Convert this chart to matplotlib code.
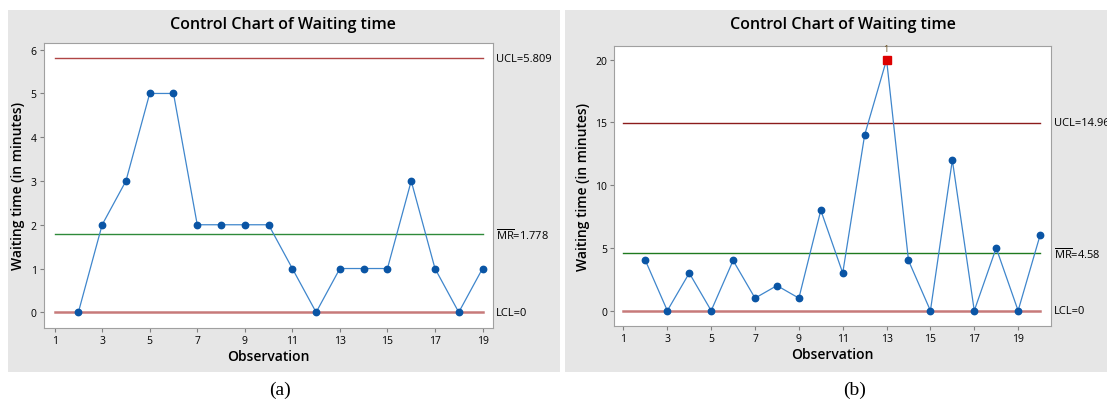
import matplotlib
matplotlib.use('Agg')
import matplotlib.pyplot as plt
from matplotlib.patches import Rectangle

plt.rcParams['font.family'] = ['Open Sans', 'DejaVu Sans']
plt.rcParams['mathtext.fontset'] = 'custom'
plt.rcParams['mathtext.rm'] = 'Open Sans'

# panel (a) moving range data
obs_a = list(range(2, 20))
mr_a = [0, 2, 3, 5, 5, 2, 2, 2, 2, 1, 0, 1, 1, 1, 3, 1, 0, 1]
ucl_a, mrbar_a, lcl_a = 5.809, 1.778, 0
ucl_a_txt, mrbar_a_txt = '5.809', '1.778'

# panel (b) moving range data
obs_b = list(range(2, 21))
mr_b = [4, 0, 3, 0, 4, 1, 2, 1, 8, 3, 14, 20, 4, 0, 12, 0, 5, 0, 6]
ucl_b, mrbar_b, lcl_b = 14.96, 4.58, 0
ucl_b_txt, mrbar_b_txt = '14.96', '4.58'
flag_obs, flag_val = 13, 20

xticks = [1, 3, 5, 7, 9, 11, 13, 15, 17, 19]
title = 'Control Chart of Waiting time'
ylab = 'Waiting time (in minutes)'
xlab = 'Observation'

W, H = 1107, 402
fig = plt.figure(figsize=(W / 100, H / 100), dpi=100)
fig.patch.set_facecolor('white')

def px(x0, y0, x1, y1):
    # pixel box (top-left origin) -> figure fraction rect
    return [x0 / W, (H - y1) / H, (x1 - x0) / W, (y1 - y0) / H]

bg = '#e6e6e6'
for box in [(8, 11, 560, 373), (565, 11, 1107, 373)]:
    r = px(*box)
    fig.patches.append(Rectangle((r[0], r[1]), r[2], r[3], transform=fig.transFigure,
                                 facecolor=bg, edgecolor='none', zorder=-10))


def draw_panel(rect, obs, vals, ucl, mrbar, lcl, ucl_txt, mr_txt, xend, xlim, ylim, yticks,
               ucl_col, mr_col):
    ax = fig.add_axes(rect)
    ax.set_facecolor('white')
    ax.plot(obs, vals, color='#3f86cc', lw=0.9, zorder=3)
    ax.plot(obs, vals, 'o', color='#0a55a5', ms=4.6, zorder=4)
    ax.plot([1, xend], [ucl, ucl], color=ucl_col, lw=1.0, zorder=2)
    ax.plot([1, xend], [mrbar, mrbar], color=mr_col, lw=1.0, zorder=2)
    ax.plot([1, xend], [lcl, lcl], color='#c77a7a', lw=1.8, zorder=2)
    ax.set_xlim(*xlim)
    ax.set_ylim(*ylim)
    ax.set_xticks(xticks)
    ax.set_yticks(yticks)
    ax.tick_params(labelsize=7.5, length=3, color='#808080', pad=2)
    for s in ax.spines.values():
        s.set_color('#a0a0a0')
    kw = dict(transform=ax.get_yaxis_transform(), fontsize=8, va='center', ha='left', clip_on=False)
    ax.text(1.007, ucl, 'UCL=' + ucl_txt, **kw)
    ax.text(1.007, mrbar, r'$\overline{\mathrm{MR}}$' + '=' + mr_txt, **kw)
    ax.text(1.007, lcl, 'LCL=0', **kw)
    ax.set_xlabel(xlab, fontsize=10, fontweight='semibold', labelpad=2)
    ax.set_ylabel(ylab, fontsize=10, fontweight='semibold', labelpad=4)
    return ax


ax_a = draw_panel(px(43.6, 44, 493, 329), obs_a, mr_a, ucl_a, mrbar_a, lcl_a,
                  ucl_a_txt, mrbar_a_txt, 19, (0.537, 19.44), (-0.359, 6.153),
                  [0, 1, 2, 3, 4, 5, 6], '#b04545', '#2f8a3a')
ax_b = draw_panel(px(614, 47, 1051, 327), obs_b, mr_b, ucl_b, mrbar_b, lcl_b,
                  ucl_b_txt, mrbar_b_txt, 20, (0.567, 20.5), (-1.22, 21.09),
                  [0, 5, 10, 15, 20], '#8c1c1c', '#1f7a1f')

# out of control point
ax_b.plot([flag_obs], [flag_val], 's', color='#dd0000', ms=6, zorder=5)
ax_b.text(flag_obs - 0.05, flag_val + 0.5, '1', fontsize=6.5, color='#6a5020',
          ha='center', va='bottom', clip_on=False, zorder=6)

fig.text(283 / W, 1 - 25 / H, title, fontsize=11.5, fontweight='semibold', ha='center', va='center')
fig.text(843 / W, 1 - 25 / H, title, fontsize=11.5, fontweight='semibold', ha='center', va='center')

fig.text(280 / W, 1 - 390 / H, '(a)', fontsize=14, family='Liberation Serif', ha='center', va='center')
fig.text(855 / W, 1 - 390 / H, '(b)', fontsize=14, family='Liberation Serif', ha='center', va='center')

fig.savefig('out.png', dpi=100)
